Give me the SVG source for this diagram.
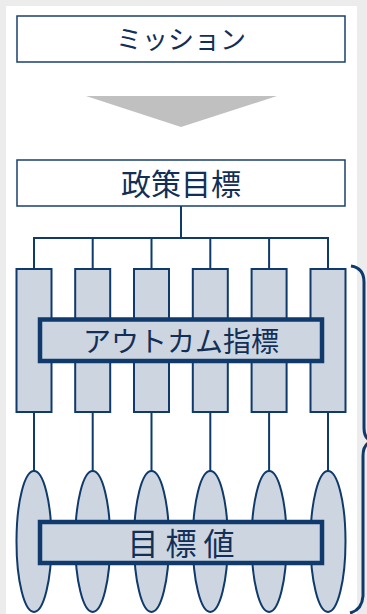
<svg xmlns="http://www.w3.org/2000/svg" width="367" height="614" viewBox="0 0 367 614">
<style>
.box{fill:#ffffff;stroke:#1a3f6e;stroke-width:1.5}
.col{fill:#cdd6e0;stroke:#0f3a6b;stroke-width:2}
.bar{fill:#cdd6e0;stroke:#0f3a6b;stroke-width:4.5}
.ln{stroke:#0f3a6b;stroke-width:2;fill:none}
.t{font-family:"Noto Sans CJK JP","Noto Sans",sans-serif;fill:#122f57;text-anchor:middle}
</style>
<rect x="0" y="0" width="367" height="614" fill="#ececec"/>
<rect x="6" y="6" width="351" height="610" fill="#ffffff"/>
<g id="mission">
<rect class="box" x="17" y="16" width="328" height="46"/>
<text class="t" x="181" y="49" font-size="26">ミッション</text>
</g>
<g id="arrow">
<polygon points="86,96 277,96 181,127" fill="#c0c0c0"/>
</g>
<g id="policy">
<rect class="box" x="17" y="160" width="328" height="46"/>
<text class="t" x="181" y="195" font-size="30">政策目標</text>
</g>
<g id="connectors">
<line class="ln" x1="181" y1="206" x2="181" y2="238"/>
<line class="ln" x1="33" y1="238" x2="329" y2="238"/>
<line class="ln" x1="151" y1="238" x2="211" y2="238" stroke-width="3"/>
<path class="ln" d="M34,238V269M92.7,238V269M151.5,238V269M210.3,238V269M269.1,238V269M328,238V269"/>
<path class="ln" d="M34,412V471M92.7,412V471M151.5,412V471M210.3,412V471M269.1,412V471M328,412V471"/>
</g>
<g id="indicators">
<rect class="col" x="16.5" y="269" width="35" height="143"/>
<rect class="col" x="75.2" y="269" width="35" height="143"/>
<rect class="col" x="134" y="269" width="35" height="143"/>
<rect class="col" x="192.8" y="269" width="35" height="143"/>
<rect class="col" x="251.6" y="269" width="35" height="143"/>
<rect class="col" x="310.5" y="269" width="35" height="143"/>
</g>
<g id="outcome">
<rect class="bar" x="40" y="319.5" width="282" height="41.5"/>
<text class="t" x="181" y="352" font-size="28">アウトカム指標</text>
</g>
<g id="values">
<ellipse class="col" cx="34" cy="541.5" rx="17.5" ry="70.5"/>
<ellipse class="col" cx="92.7" cy="541.5" rx="17.5" ry="70.5"/>
<ellipse class="col" cx="151.5" cy="541.5" rx="17.5" ry="70.5"/>
<ellipse class="col" cx="210.3" cy="541.5" rx="17.5" ry="70.5"/>
<ellipse class="col" cx="269.1" cy="541.5" rx="17.5" ry="70.5"/>
<ellipse class="col" cx="328" cy="541.5" rx="17.5" ry="70.5"/>
</g>
<g id="target">
<rect class="bar" x="40" y="522" width="282" height="41"/>
<text class="t" x="181" y="555" font-size="31">目 標 値</text>
</g>
<g id="brace">
<path d="M351,266 Q364,268 364,282 V428 Q364,440 373,441 Q363,443 363,456 V596 Q362,610 350,613" fill="none" stroke="#0f3a6b" stroke-width="3"/>
</g>
</svg>
